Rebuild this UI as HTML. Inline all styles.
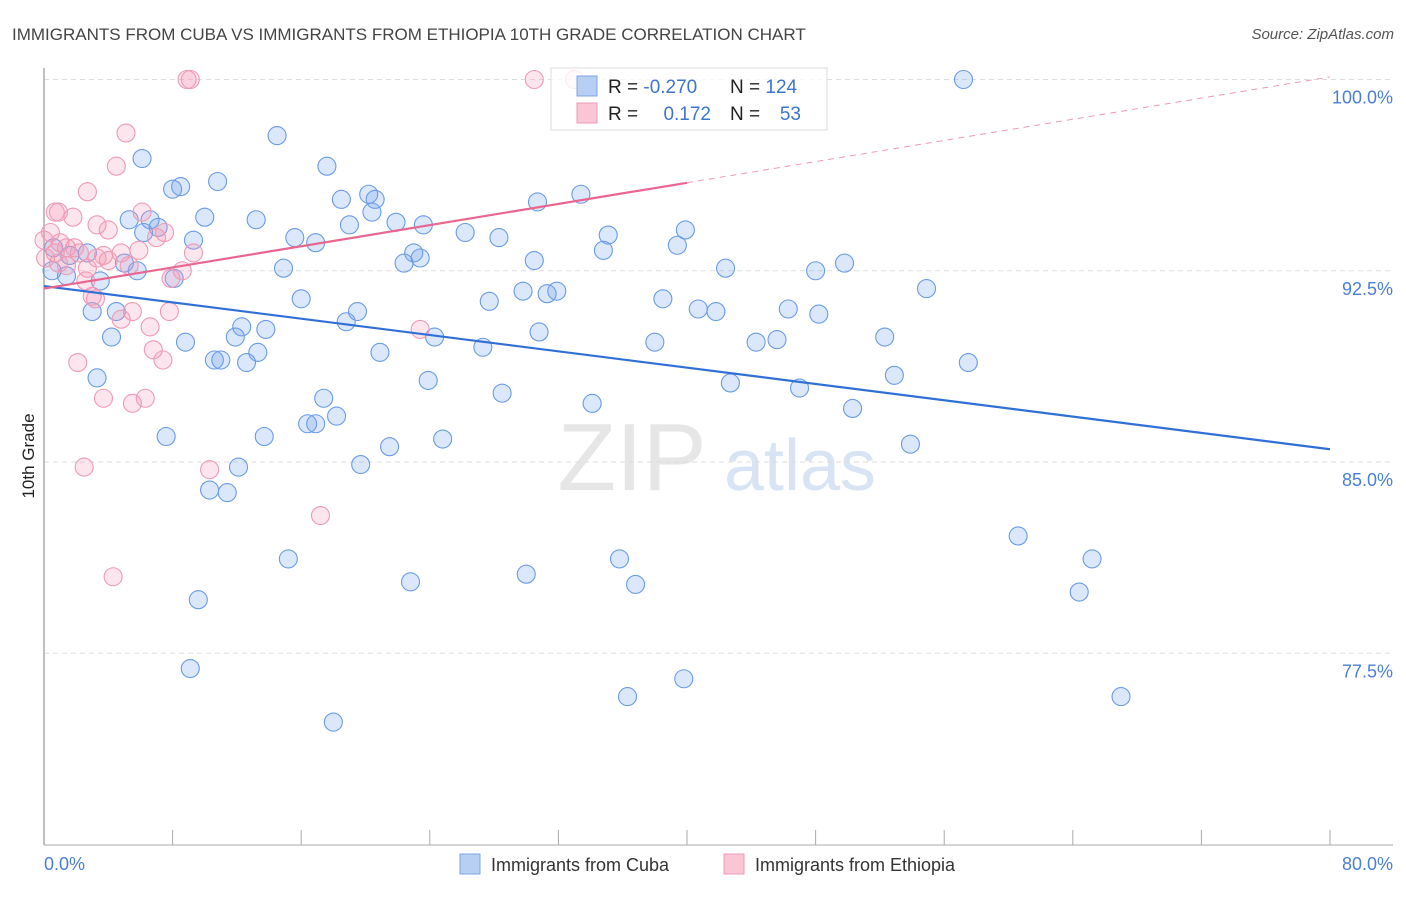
<!DOCTYPE html>
<html><head><meta charset="utf-8"><style>
body{margin:0;background:#fff;font-family:"Liberation Sans",sans-serif;}
svg text{font-family:"Liberation Sans",sans-serif;}
</style></head><body>
<svg id="chart" width="1406" height="892" xmlns="http://www.w3.org/2000/svg">
<text x="12" y="40" font-size="17" fill="#444">IMMIGRANTS FROM CUBA VS IMMIGRANTS FROM ETHIOPIA 10TH GRADE CORRELATION CHART</text>
<text x="1394" y="39" font-size="15" fill="#555" font-style="italic" text-anchor="end">Source: ZipAtlas.com</text>
<g>
<text x="632" y="490" font-size="96" fill="#e6e6e6" font-family="Liberation Serif" text-anchor="middle">ZIP</text>
<text x="800" y="490" font-size="72" fill="#d8e4f4" text-anchor="middle">atlas</text>
</g>
<g id="grid"></g>
<line x1="44" y1="68" x2="44" y2="845" stroke="#aaa" stroke-width="1.5"/>
<line x1="44" y1="845" x2="1393" y2="845" stroke="#aaa" stroke-width="1"/>
<g id="xticks"></g>
<text transform="translate(34,456) rotate(-90)" font-size="17" fill="#222" text-anchor="middle">10th Grade</text>
<text x="44" y="870" font-size="18" fill="#4a7fd6">0.0%</text>
<text x="1393" y="870" font-size="18" fill="#4a7fd6" text-anchor="end">80.0%</text>
<g id="ylabels"></g>
<g id="pts"></g>
<g id="trends"></g>
<g>
<rect x="551" y="68" width="276" height="62" fill="#fff" fill-opacity="0.8" stroke="#ddd"/>
<rect x="577" y="76" width="20" height="20" fill="#b7cff3" stroke="#7fa6e6"/>
<rect x="577" y="103" width="20" height="20" fill="#f9c6d5" stroke="#ee9ab4"/>
<text x="608" y="93" font-size="19" fill="#222">R = <tspan fill="#3d74cf">-0.270</tspan></text>
<text x="730" y="93" font-size="19" fill="#222">N = <tspan fill="#3d74cf">124</tspan></text>
<text x="608" y="120" font-size="19" fill="#222">R = </text>
<text x="711" y="120" font-size="19" fill="#3d74cf" text-anchor="end">0.172</text>
<text x="730" y="120" font-size="19" fill="#222">N = </text>
<text x="801" y="120" font-size="19" fill="#3d74cf" text-anchor="end">53</text>
</g>
<g>
<rect x="460" y="854" width="20" height="20" fill="#b7cff3" stroke="#7fa6e6"/>
<text x="491" y="871" font-size="18" fill="#333">Immigrants from Cuba</text>
</g>
<g>
<rect x="724" y="854" width="20" height="20" fill="#f9c6d5" stroke="#ee9ab4"/>
<text x="755" y="871" font-size="18" fill="#333">Immigrants from Ethiopia</text>
</g>
</svg>
<script>
const yTicks=[100,92.5,85,77.5];
const yTickLabels=["100.0%","92.5%","85.0%","77.5%"];
const xTicks=[0,8,16,24,32,40,48,56,64,72,80];
const cubaX=[57.2,14.5,6.1,17.6,10.8,8.5,8.0,20.2,18.5,20.6,30.7,33.4,20.4,10.0,13.2,5.3,6.6,21.9,19.0,23.6,26.2,35.1,39.9,7.1,6.2,15.6,28.3,16.9,9.3,39.4,0.6,2.7,23.0,34.8,1.6,23.4,30.5,22.4,14.9,5.0,42.4,49.8,48.0,5.8,8.1,3.5,1.4,0.5,16.0,27.7,29.8,31.9,31.3,38.5,40.7,41.8,46.3,54.9,3.0,4.5,19.5,18.8,48.2,12.3,13.8,30.8,52.3,11.9,4.2,8.8,38.0,24.3,44.3,45.6,13.3,27.3,20.9,10.6,11.0,12.6,3.3,57.5,23.9,52.9,42.7,47.0,28.5,17.4,34.1,50.3,18.2,16.4,16.9,7.6,13.7,24.8,21.5,53.9,12.1,19.7,10.3,11.4,60.6,15.2,35.8,65.2,22.8,30.0,36.8,64.4,9.6,9.1,39.8,36.3,67.0,18.0];
const cubaY=[100.0,97.8,96.9,96.6,96.0,95.8,95.7,95.5,95.3,95.3,95.2,95.5,94.8,94.6,94.5,94.5,94.5,94.4,94.3,94.3,94.0,93.9,94.1,94.2,94.0,93.8,93.8,93.6,93.7,93.5,93.4,93.2,93.2,93.3,93.1,93.0,92.9,92.8,92.6,92.8,92.6,92.8,92.5,92.5,92.2,92.1,92.3,92.5,91.4,91.3,91.7,91.7,91.6,91.4,91.0,90.9,91.0,91.8,90.9,90.9,90.9,90.5,90.8,90.3,90.2,90.1,89.9,89.9,89.9,89.7,89.7,89.9,89.7,89.8,89.3,89.5,89.3,89.0,89.0,88.9,88.3,88.9,88.2,88.4,88.1,87.9,87.7,87.5,87.3,87.1,86.8,86.5,86.5,86.0,86.0,85.9,85.6,85.7,84.8,84.9,83.9,83.8,82.1,81.2,81.2,81.2,80.3,80.6,80.2,79.9,79.6,76.9,76.5,75.8,75.8,74.8];
const ethX=[8.9,9.1,30.5,33.0,5.1,4.5,2.7,0.7,0.9,1.8,3.3,4.0,6.1,7.5,7.0,0.4,1.0,1.9,0.7,2.2,3.7,4.8,5.9,9.3,4.0,3.3,1.4,8.6,7.9,2.6,3.0,3.2,5.5,7.8,4.8,6.6,23.4,6.8,7.4,2.1,3.7,5.5,6.3,2.5,10.3,17.2,4.3,0,0.1,0.9,5.3,1.4,2.7];
const ethY=[100.0,100.0,100.0,100.0,97.9,96.6,95.6,94.8,94.8,94.6,94.3,94.1,94.8,94.0,93.8,94.0,93.6,93.4,93.2,93.2,93.1,93.2,93.3,93.2,92.9,93.0,92.7,92.5,92.2,92.1,91.5,91.4,90.9,90.9,90.6,90.3,90.2,89.4,89.0,88.9,87.5,87.3,87.5,84.8,84.7,82.9,80.5,93.7,93.0,92.8,92.7,93.4,92.6];
const cubaTrend=[91.9,85.5];
const ethTrend=[91.8,100.1];
const ethSolidEnd=40;
const NS="http://www.w3.org/2000/svg";
const xS=v=>44+v/80*1286;
const yS=v=>79.5+(100-v)*25.5;
function mk(tag,attrs,parent){const e=document.createElementNS(NS,tag);for(const k in attrs)e.setAttribute(k,attrs[k]);document.getElementById(parent).appendChild(e);return e;}
yTicks.forEach((t,i)=>{
 const g=mk('line',{x1:44,x2:1393,y1:yS(t),y2:yS(t),stroke:'#ddd','stroke-dasharray':'5,4'},'grid');
 
 
 const l=mk('text',{x:1393,y:yS(t)+24,'font-size':18,fill:'#4a7fd6','text-anchor':'end'},'ylabels');
 l.textContent=yTickLabels[i];
 
 
});
xTicks.forEach(t=>{
 const l=mk('line',{x1:xS(t),x2:xS(t),y1:830,y2:845,stroke:'#aaa'},'xticks');
 
 
});
cubaX.forEach((x,i)=>{
 const c=mk('circle',{cx:xS(x),cy:yS(cubaY[i]),r:9,fill:'rgba(110,160,235,0.25)',stroke:'#6a9be4','stroke-width':1.1},'pts');
 
 
});
ethX.forEach((x,i)=>{
 const c=mk('circle',{cx:xS(x),cy:yS(ethY[i]),r:9,fill:'rgba(245,150,180,0.25)',stroke:'#ef9ab5','stroke-width':1.1},'pts');
 
 
});
const bt=mk('line',{x1:xS(0),y1:yS(cubaTrend[0]),x2:xS(80),y2:yS(cubaTrend[1]),stroke:'#2f6fd6','stroke-width':2.2},'trends');


const ey=v=>ethTrend[0]+(ethTrend[1]-ethTrend[0])*v/80;
const pt=mk('line',{x1:xS(0),y1:yS(ey(0)),x2:xS(ethSolidEnd),y2:yS(ey(ethSolidEnd)),stroke:'#e8668f','stroke-width':2.2},'trends');


const pd=mk('line',{x1:xS(ethSolidEnd),y1:yS(ey(ethSolidEnd)),x2:xS(80),y2:yS(ey(80)),stroke:'#ec9ab3','stroke-width':1,'stroke-dasharray':'6,5'},'trends');


</script>
</body></html>
